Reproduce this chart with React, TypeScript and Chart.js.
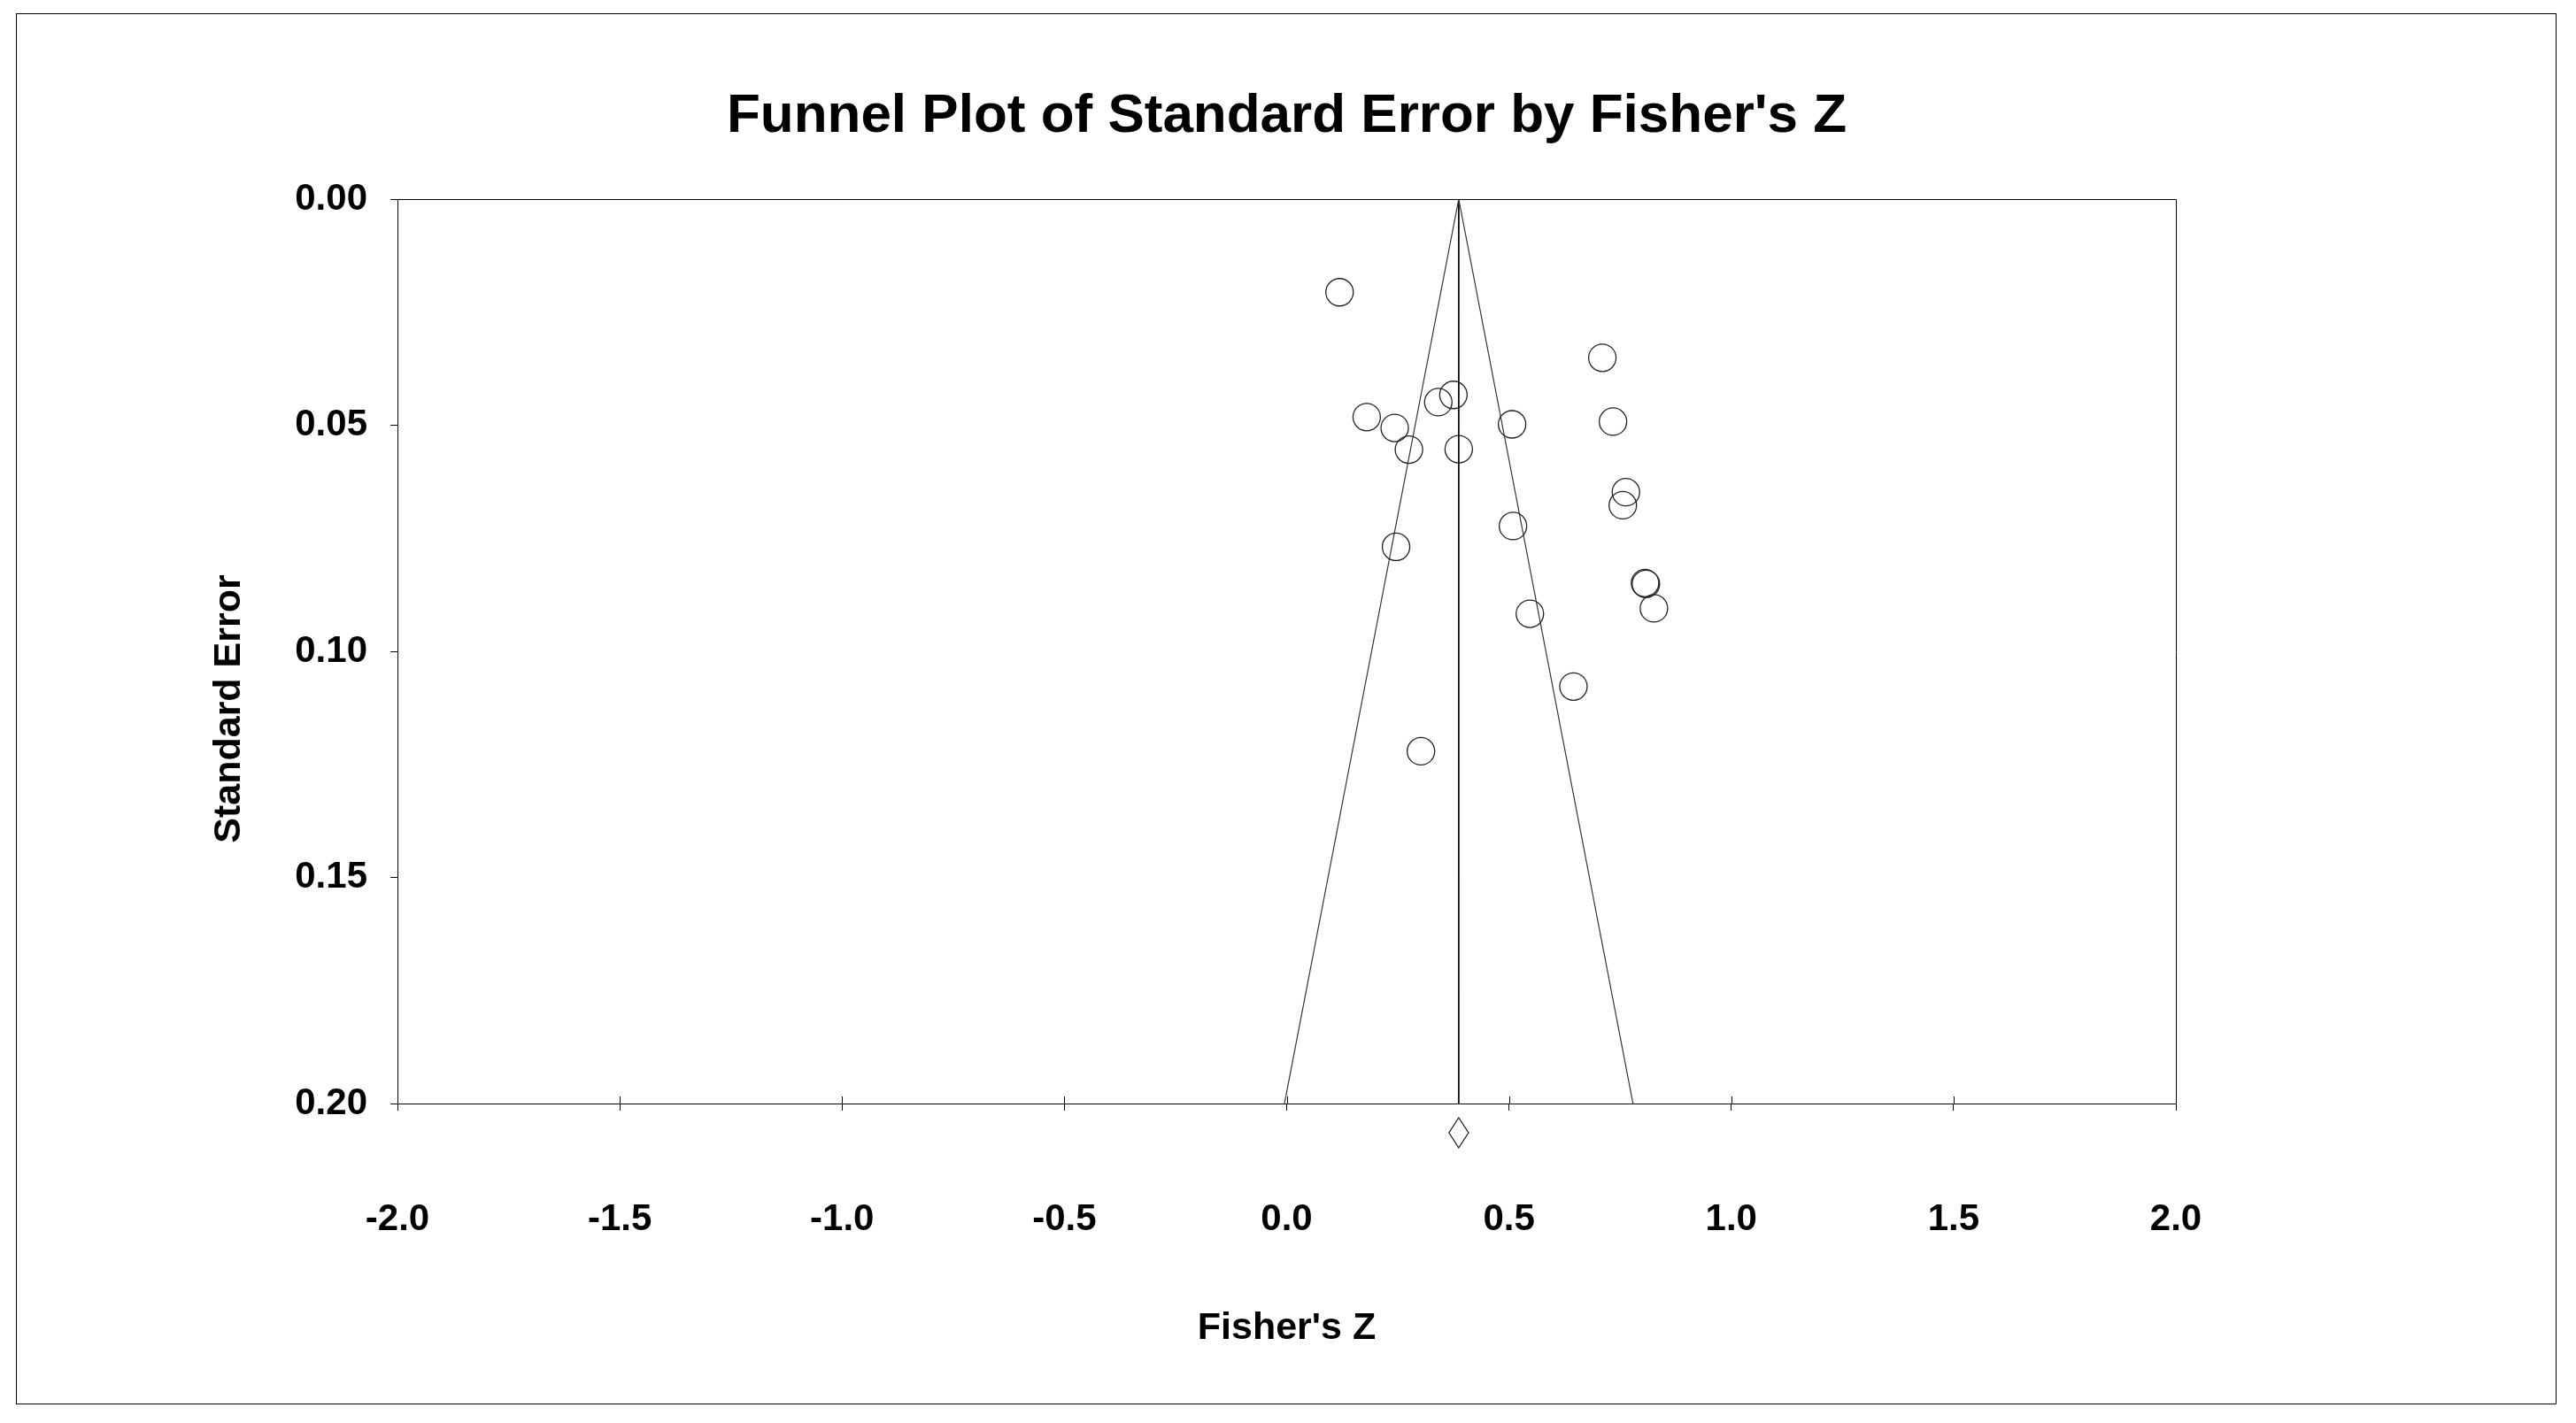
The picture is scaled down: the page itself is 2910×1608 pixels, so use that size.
import React, { useEffect, useRef } from "react";
import { Chart, registerables } from "chart.js";

Chart.register(...registerables);

// ---- Data ----
const fisherZ = [0.119, 0.710, 0.375, 0.341, 0.180, 0.243, 0.507, 0.734, 0.275, 0.387, 0.763, 0.756, 0.509, 0.246, 0.806, 0.808, 0.826, 0.547, 0.645, 0.302];
const standardError = [0.0206, 0.0351, 0.0433, 0.0449, 0.0482, 0.0506, 0.0498, 0.0492, 0.0554, 0.0553, 0.0648, 0.0677, 0.0723, 0.0769, 0.0849, 0.0851, 0.0905, 0.0917, 0.1078, 0.1221];
const funnelZ = [-0.005, 0.387, 0.779];
const funnelSE = [0.2, 0.0, 0.2];
const pooledLineZ = [0.387, 0.387];
const pooledLineSE = [0.0, 0.2];
const pooledZ = 0.387;
const pooledLower = 0.365;
const pooledUpper = 0.409;
const xTickValues = [-2.0, -1.5, -1.0, -0.5, 0.0, 0.5, 1.0, 1.5, 2.0];
const yTickValues = [0.0, 0.05, 0.1, 0.15, 0.2];
const chartTitle = "Funnel Plot of Standard Error by Fisher's Z";
const xAxisTitle = "Fisher's Z";
const yAxisTitle = "Standard Error";

const FONT = "'Liberation Sans', Arial, Helvetica, sans-serif";

const decorPlugin = {
  id: "funnelDecor",
  beforeDraw(chart: any) {
    const ctx = chart.ctx;
    ctx.save();
    ctx.fillStyle = "#ffffff";
    ctx.fillRect(0, 0, chart.width, chart.height);
    ctx.restore();
  },
  afterDraw(chart: any) {
    const ctx = chart.ctx;
    const area = chart.chartArea;
    const xs = chart.scales.x;
    ctx.save();
    // outer frame
    ctx.strokeStyle = "#000";
    ctx.lineWidth = 1;
    ctx.strokeRect(10.5, 7.5, chart.width - 25, chart.height - 21);
    // top and right of plot box
    ctx.beginPath();
    ctx.moveTo(Math.round(area.left) + 0.5, Math.round(area.top) + 0.5);
    ctx.lineTo(Math.round(area.right) + 0.5, Math.round(area.top) + 0.5);
    ctx.lineTo(Math.round(area.right) + 0.5, Math.round(area.bottom) + 0.5);
    ctx.stroke();
    // inner halves of x ticks
    ctx.beginPath();
    xTickValues.forEach((v) => {
      const px = Math.round(xs.getPixelForValue(v)) + 0.5;
      ctx.moveTo(px, area.bottom - 8);
      ctx.lineTo(px, area.bottom);
    });
    ctx.stroke();
    // pooled estimate diamond below the axis
    const cx = xs.getPixelForValue(pooledZ);
    const lx = xs.getPixelForValue(pooledLower);
    const rx = xs.getPixelForValue(pooledUpper);
    const cy = area.bottom + 33;
    ctx.strokeStyle = "#111";
    ctx.lineWidth = 1.2;
    ctx.beginPath();
    ctx.moveTo(cx, cy - 17);
    ctx.lineTo(rx, cy);
    ctx.lineTo(cx, cy + 17);
    ctx.lineTo(lx, cy);
    ctx.closePath();
    ctx.stroke();
    // y axis title
    ctx.fillStyle = "#000";
    ctx.font = `bold 43px ${FONT}`;
    ctx.textAlign = "center";
    ctx.textBaseline = "middle";
    ctx.translate(area.left - 190, (area.top + area.bottom) / 2 + 65);
    ctx.rotate(-Math.PI / 2);
    ctx.fillText(yAxisTitle, 0, 0);
    ctx.restore();
  },
};

export default function App() {
  const canvasRef = useRef<HTMLCanvasElement | null>(null);

  useEffect(() => {
    const canvas = canvasRef.current;
    if (!canvas) return;
    Chart.defaults.font.family = FONT;
    Chart.defaults.color = "#000";

    const studies = fisherZ.map((z, i) => ({ x: z, y: standardError[i] }));
    const funnel = funnelZ.map((z, i) => ({ x: z, y: funnelSE[i] }));
    const pooledLine = pooledLineZ.map((z, i) => ({ x: z, y: pooledLineSE[i] }));

    const chart = new Chart(canvas, {
      type: "scatter",
      data: {
        datasets: [
          {
            label: "Studies",
            data: studies,
            pointStyle: "circle",
            pointRadius: 15.5,
            pointHoverRadius: 15.5,
            pointBackgroundColor: "rgba(0,0,0,0)",
            pointBorderColor: "#222",
            pointBorderWidth: 1.3,
            showLine: false,
          },
          {
            label: "Funnel",
            data: funnel,
            showLine: true,
            borderColor: "#333",
            borderWidth: 1.2,
            pointRadius: 0,
            fill: false,
          },
          {
            label: "Pooled",
            data: pooledLine,
            showLine: true,
            borderColor: "#000",
            borderWidth: 1,
            pointRadius: 0,
            fill: false,
          },
        ],
      },
      options: {
        responsive: false,
        animation: false,
        events: [],
        layout: { padding: { left: 0, right: 444, top: 0, bottom: 0 } },
        plugins: {
          legend: { display: false },
          tooltip: { enabled: false },
          title: {
            display: true,
            text: chartTitle,
            fullSize: false,
            color: "#000",
            font: { size: 62, weight: "bold", family: FONT, lineHeight: 1.2 },
            padding: { top: 86.7, bottom: 55.9 },
          },
        },
        scales: {
          x: {
            type: "linear",
            min: -2,
            max: 2,
            afterBuildTicks: (s: any) => {
              s.ticks = xTickValues.map((v) => ({ value: v }));
            },
            afterFit: (s: any) => {
              s.height = 353;
            },
            ticks: {
              color: "#000",
              font: { size: 42, weight: "bold", family: FONT, lineHeight: 1.2 },
              padding: 98,
              maxRotation: 0,
              autoSkip: false,
              callback: (v: any) => Number(v).toFixed(1),
            },
            grid: {
              display: true,
              drawOnChartArea: false,
              drawTicks: true,
              tickLength: 8,
              color: "#000",
              lineWidth: 1,
            },
            border: { display: true, color: "#000", width: 1 },
            title: {
              display: true,
              text: xAxisTitle,
              color: "#000",
              font: { size: 43, weight: "bold", family: FONT, lineHeight: 1.2 },
              padding: { top: 0, bottom: 73 },
            },
          },
          y: {
            type: "linear",
            reverse: true,
            min: 0,
            max: 0.2,
            afterBuildTicks: (s: any) => {
              s.ticks = yTickValues.map((v) => ({ value: v }));
            },
            afterFit: (s: any) => {
              s.width = 441;
            },
            ticks: {
              color: "#000",
              font: { size: 42, weight: "bold", family: FONT, lineHeight: 1.2 },
              padding: 26,
              autoSkip: false,
              callback: (v: any) => Number(v).toFixed(2),
            },
            grid: {
              display: true,
              drawOnChartArea: false,
              drawTicks: true,
              tickLength: 8,
              color: "#000",
              lineWidth: 1,
            },
            border: { display: true, color: "#000", width: 1 },
            title: { display: false },
          },
        },
      },
      plugins: [decorPlugin],
    });

    return () => {
      chart.destroy();
    };
  }, []);

  return (
    <canvas
      ref={canvasRef}
      width={2894}
      height={1592}
      style={{ display: "block", width: "2894px", height: "1592px" }}
    />
  );
}
